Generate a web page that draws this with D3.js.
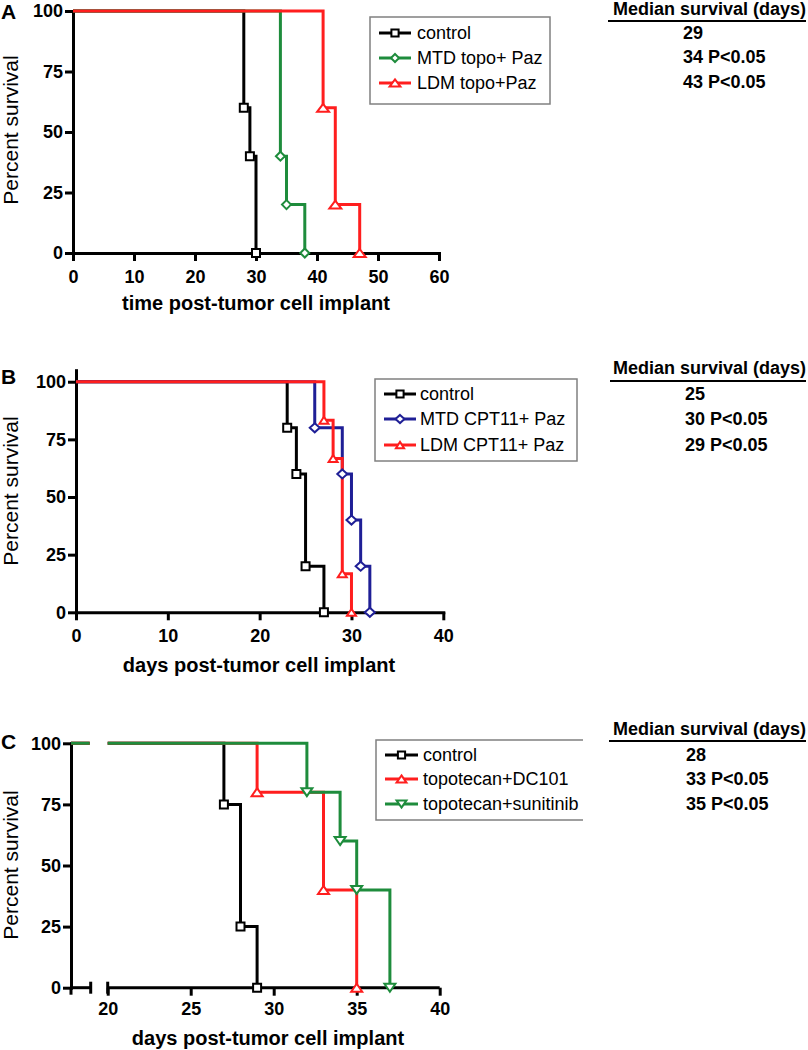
<!DOCTYPE html>
<html><head><meta charset="utf-8">
<script src="https://cdn.jsdelivr.net/npm/d3@7"></script>
<style>body{margin:0;background:#fff}svg{display:block}text{font-family:"Liberation Sans",Arial,sans-serif;fill:#000}</style>
</head><body><svg id="c" width="808" height="1050"></svg>
<script>
// ---------- DATA ----------
const xTicksA = [0, 10, 20, 30, 40, 50, 60];
const xTicksB = [0, 10, 20, 30, 40];
const xTicksC = [20, 25, 30, 35, 40];
const yTicks = [0, 25, 50, 75, 100];
const xLabelA = "time post-tumor cell implant";
const xLabelBC = "days post-tumor cell implant";
const yLabel = "Percent survival";
const tableHeader = "Median survival (days)";

const seriesA = ["control", "MTD topo+ Paz", "LDM topo+Paz"];
const aControlT = [0, 28, 29, 30], aControlS = [100, 60, 40, 0];
const aMtdT = [0, 34, 35, 38], aMtdS = [100, 40, 20, 0];
const aLdmT = [0, 41, 43, 47], aLdmS = [100, 60, 20, 0];
const medianA = ["29", "34 P<0.05", "43 P<0.05"];

const seriesB = ["control", "MTD CPT11+ Paz", "LDM CPT11+ Paz"];
const bControlT = [0, 23, 24, 25, 27], bControlS = [100, 80, 60, 20, 0];
const bMtdT = [0, 26, 29, 30, 31, 32], bMtdS = [100, 80, 60, 40, 20, 0];
const bLdmT = [0, 27, 28, 29, 30], bLdmS = [100, 83.3, 66.7, 16.7, 0];
const medianB = ["25", "30 P<0.05", "29 P<0.05"];

const seriesC = ["control", "topotecan+DC101", "topotecan+sunitinib"];
const cControlT = [0, 27, 28, 29], cControlS = [100, 75, 25, 0];
const cDcT = [0, 29, 33, 35], cDcS = [100, 80, 40, 0];
const cSunT = [0, 32, 34, 35, 37], cSunS = [100, 80, 60, 40, 0];
const medianC = ["28", "33 P<0.05", "35 P<0.05"];

// ---------- STYLE ----------
const BLACK = "#000", GREEN = "#1e8c3c", RED = "#ff1e1e", BLUE = "#1f1f96";
const zip = (t, s) => t.map((d, i) => [d, s[i]]);

const svg = d3.select("#c");

function markerPath(type, w, h) {
  const a = w / 2, b = h / 2;
  if (type === "square") return `M${-a},${-b}H${a}V${b}H${-a}Z`;
  if (type === "diamond") return `M0,${-b}L${a},0L0,${b}L${-a},0Z`;
  if (type === "up") return `M0,${-b}L${a},${b}L${-a},${b}Z`;
  return `M0,${b}L${a},${-b}L${-a},${-b}Z`;
}

function styleAxis(g) {
  g.selectAll("path.domain").attr("stroke", BLACK).attr("stroke-width", 3).attr("stroke-linecap", "square");
  g.selectAll(".tick line").attr("stroke", BLACK).attr("stroke-width", 3);
  g.selectAll(".tick text").attr("font-size", 18).attr("font-weight", "bold")
    .style("font-family", '"Liberation Sans",Arial,sans-serif').attr("fill", BLACK);
}

function drawPanel(p) {
  const g = svg.append("g");
  const x = p.x, y = p.y;
  const x0 = p.axisLeft, y0 = y(0);

  // y axis
  const ya = g.append("g").attr("transform", `translate(${x0},0)`)
    .call(d3.axisLeft(y).tickValues(yTicks).tickSize(8).tickSizeOuter(0).tickPadding(2));
  styleAxis(ya);

  // x axis
  if (!p.broken) {
    const xa = g.append("g").attr("transform", `translate(0,${y0})`)
      .call(d3.axisBottom(x).tickValues(p.xTicks).tickSize(8).tickSizeOuter(0).tickPadding(9));
    styleAxis(xa);
  } else {
    const xa = g.append("g").attr("transform", `translate(0,${y0})`)
      .call(d3.axisBottom(x).tickValues(p.xTicks).tickSize(8).tickSizeOuter(0).tickPadding(7));
    xa.select("path.domain").remove();
    styleAxis(xa);
    const segs = [[0, p.breakLo], [p.breakHi, p.xTicks[p.xTicks.length - 1]]];
    segs.forEach(s => {
      g.append("line").attr("x1", x(s[0])).attr("x2", x(s[1])).attr("y1", y0).attr("y2", y0)
        .attr("stroke", BLACK).attr("stroke-width", 3);
    });
    [p.breakLo, p.breakHi].forEach(v => {
      g.append("line").attr("x1", x(v)).attr("x2", x(v)).attr("y1", y0 - 6).attr("y2", y0 + 6)
        .attr("stroke", BLACK).attr("stroke-width", 3);
    });
    g.append("line").attr("x1", x(0)).attr("x2", x(0)).attr("y1", y0).attr("y2", y0 + 7)
      .attr("stroke", BLACK).attr("stroke-width", 3);
  }

  // clip for broken axis
  let clipId = null;
  if (p.broken) {
    clipId = "clip" + p.letter;
    const cp = svg.append("defs").append("clipPath").attr("id", clipId);
    cp.append("rect").attr("x", 0).attr("y", 0).attr("width", x(p.breakLo) - 1).attr("height", 1050);
    cp.append("rect").attr("x", x(p.breakHi)).attr("y", 0).attr("width", 808).attr("height", 1050);
  }

  const line = d3.line().x(d => x(d[0])).y(d => y(d[1])).curve(d3.curveStepAfter);
  p.series.forEach(s => {
    const path = g.append("path").datum(s.data).attr("d", line)
      .attr("fill", "none").attr("stroke", s.color).attr("stroke-width", 3)
      .attr("stroke-linejoin", "miter");
    if (clipId) path.attr("clip-path", `url(#${clipId})`);
  });
  p.series.forEach(s => {
    g.selectAll(null).data(s.data.slice(1)).enter().append("path")
      .attr("transform", d => `translate(${x(d[0])},${y(d[1])})`)
      .attr("d", markerPath(s.marker, s.mw, s.mh))
      .attr("fill", "#fff").attr("stroke", s.color).attr("stroke-width", 2);
  });

  // labels
  g.append("text").attr("x", 1).attr("y", p.letterY).attr("font-size", 21).attr("font-weight", "bold").text(p.letter);
  g.append("text").attr("transform", `translate(${18},${p.yLabelY}) rotate(-90)`)
    .attr("text-anchor", "middle").attr("font-size", 21).text(yLabel);
  g.append("text").attr("x", p.xLabelX).attr("y", p.xLabelY).attr("text-anchor", "middle")
    .attr("font-size", 20).attr("font-weight", "bold").text(p.xLabel);

  // legend
  const L = p.legend;
  if (L.open) {
    g.append("path").attr("d", `M${L.x1},${L.y0}H${L.x0}V${L.y1}H${L.x1}`)
      .attr("fill", "none").attr("stroke", "#808080").attr("stroke-width", 1.5);
  } else {
    g.append("rect").attr("x", L.x0).attr("y", L.y0).attr("width", L.x1 - L.x0).attr("height", L.y1 - L.y0)
      .attr("fill", "#fff").attr("stroke", "#808080").attr("stroke-width", 1.5);
  }
  p.series.forEach((s, i) => {
    const bl = L.rows[i], ly = bl - 6;
    g.append("line").attr("x1", L.lx1).attr("x2", L.lx2).attr("y1", ly).attr("y2", ly)
      .attr("stroke", s.color).attr("stroke-width", 3);
    g.append("path").attr("transform", `translate(${(L.lx1 + L.lx2) / 2},${ly})`)
      .attr("d", markerPath(s.marker, s.mw * 0.9, s.mh * 0.9))
      .attr("fill", "#fff").attr("stroke", s.color).attr("stroke-width", 2);
    g.append("text").attr("x", L.tx).attr("y", bl).attr("font-size", 18).text(p.names[i]);
  });

  // median table
  const T = p.table;
  g.append("text").attr("x", 806).attr("y", T.hy).attr("text-anchor", "end")
    .attr("font-size", 18).attr("font-weight", "bold").text(tableHeader);
  g.append("line").attr("x1", T.ux0).attr("x2", 806).attr("y1", T.uy).attr("y2", T.uy)
    .attr("stroke", BLACK).attr("stroke-width", 2);
  p.medians.forEach((m, i) => {
    g.append("text").attr("x", T.vx).attr("y", T.rows[i]).attr("font-size", 18)
      .attr("font-weight", "bold").text(m);
  });
}

// ---------- PANEL A ----------
drawPanel({
  letter: "A", letterY: 19, yLabelY: 130, xLabel: xLabelA, xLabelX: 256, xLabelY: 310,
  axisLeft: 73,
  x: d3.scaleLinear().domain([0, 60]).range([73, 439]),
  y: d3.scaleLinear().domain([0, 100]).range([253, 11]),
  xTicks: xTicksA, names: seriesA, medians: medianA,
  series: [
    { data: zip(aControlT, aControlS), color: BLACK, marker: "square", mw: 8, mh: 8 },
    { data: zip(aMtdT, aMtdS), color: GREEN, marker: "diamond", mw: 9, mh: 9 },
    { data: zip(aLdmT, aLdmS), color: RED, marker: "up", mw: 12, mh: 8 }
  ],
  legend: { x0: 370, x1: 550, y0: 17, y1: 104, lx1: 379, lx2: 411, tx: 417, rows: [39, 64, 89] },
  table: { hy: 15, uy: 21, ux0: 608, vx: 683, rows: [39, 63, 88] }
});

// ---------- PANEL B ----------
drawPanel({
  letter: "B", letterY: 384, yLabelY: 491, xLabel: xLabelBC, xLabelX: 259, xLabelY: 672,
  axisLeft: 76,
  x: d3.scaleLinear().domain([0, 40]).range([76, 443.3]),
  y: d3.scaleLinear().domain([0, 105]).range([612.3, 370.2]),
  xTicks: xTicksB, names: seriesB, medians: medianB,
  series: [
    { data: zip(bControlT, bControlS), color: BLACK, marker: "square", mw: 8, mh: 8 },
    { data: zip(bMtdT, bMtdS), color: BLUE, marker: "diamond", mw: 10, mh: 9 },
    { data: zip(bLdmT, bLdmS), color: RED, marker: "up", mw: 9, mh: 7 }
  ],
  legend: { x0: 375, x1: 577, y0: 379, y1: 461, lx1: 384, lx2: 416, tx: 420, rows: [400, 425, 451] },
  table: { hy: 374, uy: 381, ux0: 610, vx: 685, rows: [400, 425, 451] }
});

// ---------- PANEL C ----------
drawPanel({
  letter: "C", letterY: 749, yLabelY: 865, xLabel: xLabelBC, xLabelX: 268, xLabelY: 1045,
  axisLeft: 71, broken: true, breakLo: 3, breakHi: 20,
  x: d3.scaleLinear().domain([0, 3, 20, 40]).range([71, 90.7, 107.7, 439.7]),
  y: d3.scaleLinear().domain([0, 100]).range([987.7, 743.3]),
  xTicks: xTicksC, names: seriesC, medians: medianC,
  series: [
    { data: zip(cControlT, cControlS), color: BLACK, marker: "square", mw: 8, mh: 8 },
    { data: zip(cDcT, cDcS), color: RED, marker: "up", mw: 11, mh: 8 },
    { data: zip(cSunT, cSunS), color: GREEN, marker: "down", mw: 11, mh: 8 }
  ],
  legend: { open: true, x0: 376, x1: 583, y0: 740, y1: 820, lx1: 385, lx2: 418, tx: 423, rows: [761, 785, 810] },
  table: { hy: 735, uy: 741, ux0: 609, vx: 686, rows: [761, 785, 810] }
});
</script></body></html>
